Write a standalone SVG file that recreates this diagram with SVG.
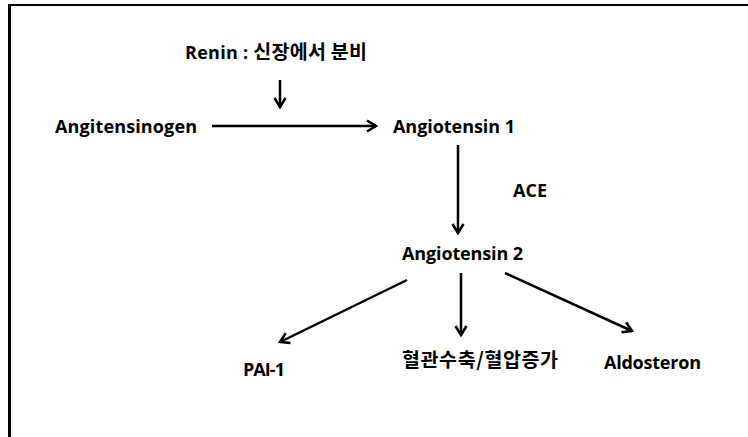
<svg xmlns="http://www.w3.org/2000/svg" width="748" height="437" viewBox="0 0 748 437">
  <style>
    .lbl { font-family: "Open Sans", "Noto Sans CJK KR", sans-serif; font-weight: 700; font-size: 18px; fill: #000; }
    .ko { font-family: "Noto Sans CJK KR", sans-serif; font-size: 19.5px; }
    .edge { stroke: #000; stroke-width: 2.5; fill: none; }
  </style>
  <defs>
    <marker id="head" viewBox="0 0 14 14" refX="12" refY="7" markerWidth="14" markerHeight="14" markerUnits="userSpaceOnUse" orient="auto">
      <polyline points="3,1.5 12,7 3,12.5" fill="none" stroke="#000" stroke-width="2.6" stroke-linejoin="miter"/>
    </marker>
  </defs>

  <rect width="748" height="437" fill="#fff"/>

  <!-- frame: top and left edges -->
  <g id="frame" stroke="#000" fill="none">
    <line x1="8" y1="5" x2="748" y2="5" stroke-width="2"/>
    <line x1="9.5" y1="4" x2="9.5" y2="437" stroke-width="3"/>
  </g>

  <g id="connectors">
    <line class="edge" x1="280" y1="80" x2="280" y2="107" marker-end="url(#head)"/>
    <line class="edge" x1="212" y1="126" x2="376" y2="126" marker-end="url(#head)"/>
    <line class="edge" x1="458" y1="145" x2="458" y2="233" marker-end="url(#head)"/>
    <line class="edge" x1="407" y1="280" x2="280" y2="342" marker-end="url(#head)"/>
    <line class="edge" x1="461" y1="273" x2="461" y2="335" marker-end="url(#head)"/>
    <line class="edge" x1="505" y1="273" x2="632" y2="331" marker-end="url(#head)"/>
  </g>

  <g id="renin"><text class="lbl" x="185" y="59" textLength="182">Renin : <tspan class="ko">신장에서 분비</tspan></text></g>
  <g id="angiotensinogen"><text class="lbl" x="55" y="133" textLength="142">Angitensinogen</text></g>
  <g id="angiotensin1"><text class="lbl" x="393" y="133" textLength="122">Angiotensin 1</text></g>
  <g id="ace"><text class="lbl" x="513" y="197" textLength="34">ACE</text></g>
  <g id="angiotensin2"><text class="lbl" x="402" y="260" textLength="121">Angiotensin 2</text></g>
  <g id="pai1"><text class="lbl" x="243" y="376" textLength="42">PAI-1</text></g>
  <g id="vasoconstriction"><text class="lbl ko" x="402" y="367" textLength="156">혈관수축/혈압증가</text></g>
  <g id="aldosteron"><text class="lbl" x="604" y="369" textLength="97">Aldosteron</text></g>
</svg>
